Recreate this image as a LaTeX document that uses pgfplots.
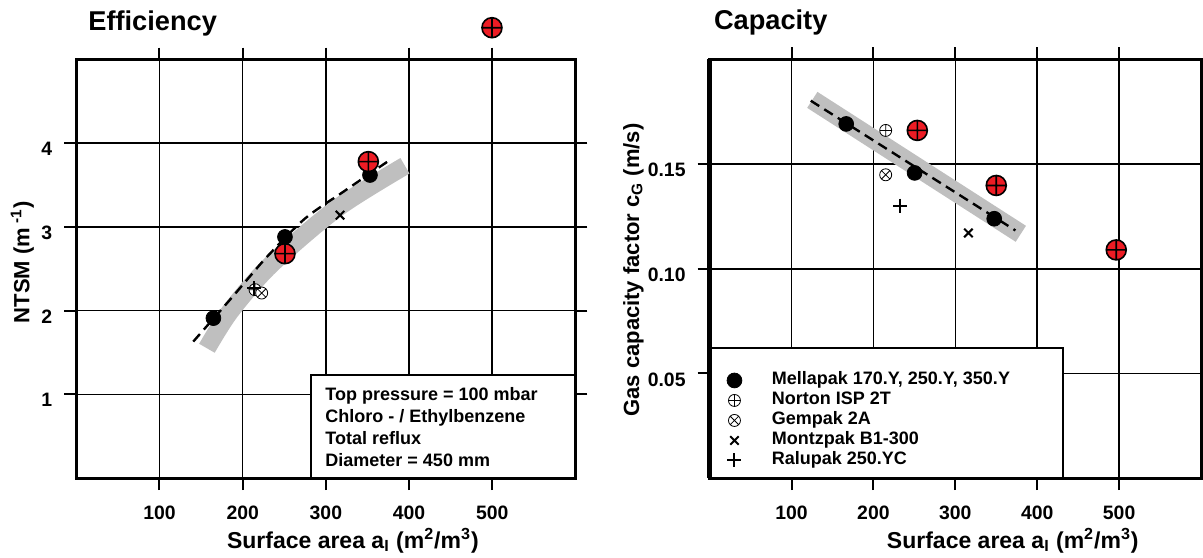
\documentclass[border=0pt]{standalone}
\usepackage{fontspec}
\setmainfont{Liberation Sans}
\usepackage{pgfplots}
\pgfplotsset{compat=1.18}
\definecolor{bandgray}{gray}{0.75}
\definecolor{redm}{RGB}{237,28,36}
\pgfplotsset{
  common/.style={
    scale only axis,
    height=209.25pt,
    axis line style={line width=1.5pt},
    grid=major, major grid style={black,line width=0.8pt},
    tick align=outside, major tick length=6pt,
    tick style={black,line width=1pt},
    ticklabel style={font=\bfseries\fontsize{9.7}{11}\selectfont},
    xticklabel style={yshift=-4.5pt},
    yticklabel style={xshift=-2.5pt, yshift=-3pt},
    /pgf/number format/assume math mode=true,
    clip=false,
    xmin=0,xmax=600,
    xtick={100,200,300,400,500},
    xlabel style={font=\bfseries\fontsize{11.5}{13}\selectfont, anchor=base, yshift=-35pt},
    ylabel style={font=\bfseries\fontsize{11}{13}\selectfont, anchor=center},
    title style={font=\bfseries\fontsize{13.6}{15}\selectfont, at={(axis description cs:0,1)}, anchor=base west, inner xsep=0pt, yshift=8.75pt},
    legend image code/.code={\draw[mark repeat=2,mark phase=2,#1] plot coordinates {(0pt,0pt)(5pt,0pt)(10pt,0pt)};},
  }
}
\begin{document}
\begin{tikzpicture}
\useasboundingbox (0,0) rectangle (601.5pt,278.5pt);
% ---------------- Efficiency ----------------
\begin{axis}[common,
  at={(38.15pt,39.5pt)}, anchor=south west,
  width=249.6pt,
  ymin=0, ymax=5, ytick={1,2,3,4},
  title={Efficiency}, title style={xshift=5.85pt},
  xlabel={Surface area a\textsubscript{I} (m\textsuperscript{2}/m\textsuperscript{3})},
  xlabel style={at={(axis description cs:0.554,0)}},
  ylabel={NTSM (m\textsuperscript{ -1})},
  ylabel style={at={(axis description cs:-0.108,0.515)}},
]
\addplot[bandgray, line width=9pt, smooth, forget plot] coordinates {(157,1.55) (185,1.99) (233,2.54) (313,3.22) (395,3.73)};
\addplot[black, line width=1.2pt, dash pattern=on 5pt off 3pt, smooth, forget plot] coordinates {(140.6,1.63) (184.7,2.13) (208.8,2.41) (230.8,2.66) (274.9,3.10) (321,3.42) (377,3.80)};
\addplot[only marks, mark=*, mark size=3.7pt, black] coordinates {(164.8,1.91) (250.8,2.88) (353,3.62)};
\addplot[only marks, mark=oplus*, mark size=3pt, black, mark options={fill=white}] coordinates {(214.8,2.25)};
\addplot[only marks, mark=otimes*, mark size=3pt, black, mark options={fill=white}] coordinates {(222.8,2.21)};
\addplot[only marks, mark=x, mark size=3pt, black, line width=1pt] coordinates {(317,3.14)};
\addplot[only marks, mark=+, mark size=3.5pt, black, line width=1pt] coordinates {(214,2.27)};
\addplot[only marks, mark=oplus*, mark size=5pt, mark options={fill=redm, draw=black, line width=0.8pt}, forget plot] coordinates {(250.8,2.68) (351,3.78) (499.6,5.38)};
\draw[fill=white, line width=1.2pt] (axis cs:282,0) rectangle (axis cs:600,1.23);
\node[anchor=north west, align=left, inner sep=0pt, font=\bfseries\fontsize{9}{11}\selectfont] at (axis cs:299,1.081) {Top pressure = 100 mbar\\Chloro - / Ethylbenzene\\Total reflux\\Diameter = 450 mm};
\end{axis}
% ---------------- Capacity ----------------
\begin{axis}[common,
  at={(354.8pt,39.5pt)}, anchor=south west,
  width=245.7pt,
  ymin=0, ymax=0.2, ytick={0.05,0.10,0.15}, yticklabels={0.05,0.10,0.15},
  title={Capacity}, title style={xshift=2pt},
  xlabel={Surface area a\textsubscript{I} (m\textsuperscript{2}/m\textsuperscript{3})},
  xlabel style={at={(axis description cs:0.617,0)}},
  ylabel={Gas capacity factor c\textsubscript{G} (m/s)},
  ylabel style={at={(axis description cs:-0.155,0.497)}},
  legend cell align=left,
  legend style={at={(axis cs:13.5,0.0535)}, anchor=north west, draw=none, fill=none,
    font=\bfseries\fontsize{9}{10}\selectfont, column sep=15pt, row sep=0pt,
    nodes={inner sep=0pt, text height=7pt, text depth=3pt}},
]
\addplot[bandgray, line width=9.5pt, forget plot] coordinates {(125.4,0.1807) (380,0.1167)};
\addplot[black, line width=1.2pt, dash pattern=on 5pt off 3pt, forget plot] coordinates {(123.5,0.1803) (373.4,0.1183)};
\addplot[only marks, mark=*, mark size=3.7pt, black] coordinates {(166.8,0.1692) (250.3,0.1458) (347.5,0.1239)};
\addplot[only marks, mark=oplus*, mark size=3pt, black, mark options={fill=white}] coordinates {(215,0.1661)};
\addplot[only marks, mark=otimes*, mark size=3pt, black, mark options={fill=white}] coordinates {(215,0.1449)};
\addplot[only marks, mark=x, mark size=3pt, black, line width=1pt] coordinates {(316,0.1171)};
\addplot[only marks, mark=+, mark size=3.5pt, black, line width=1pt] coordinates {(232.5,0.1302)};
\addplot[only marks, mark=oplus*, mark size=5pt, mark options={fill=redm, draw=black, line width=0.8pt}, forget plot] coordinates {(253.6,0.1661) (350,0.1398) (496.5,0.1090)};
\draw[fill=white, line width=1.2pt] (axis cs:0,0) rectangle (axis cs:431.5,0.062);
\draw[line width=2.5pt] (rel axis cs:0,0) -- (rel axis cs:0,1);
\legend{{Mellapak 170.Y, 250.Y, 350.Y}, {Norton ISP 2T}, {Gempak 2A}, {Montzpak B1-300}, {Ralupak 250.YC}}
\end{axis}
\end{tikzpicture}
\end{document}
